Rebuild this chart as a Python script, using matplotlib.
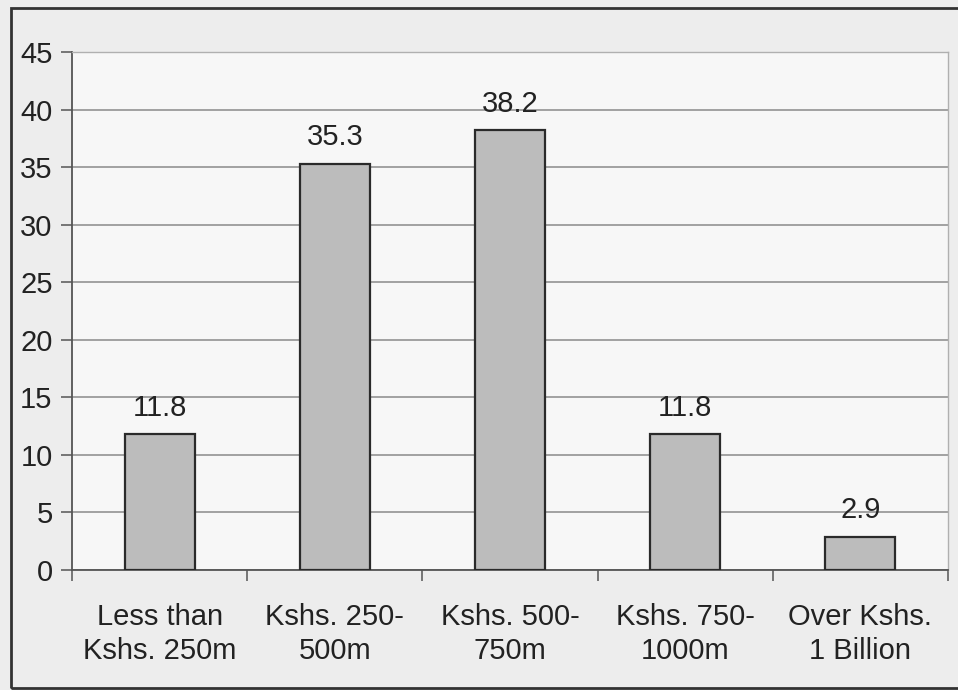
"""Bar chart: distribution of firms by annual turnover band (percent)."""

import matplotlib

matplotlib.use('Agg')
import matplotlib.pyplot as plt
from matplotlib.patches import Rectangle
import numpy as np

# -----------------------------------------------------------------------
# Data
# -----------------------------------------------------------------------
categories = [
    'Less than\nKshs. 250m',
    'Kshs. 250-\n500m',
    'Kshs. 500-\n750m',
    'Kshs. 750-\n1000m',
    'Over Kshs.\n1 Billion',
]
values = [11.8, 35.3, 38.2, 11.8, 2.9]
y_ticks = [0, 5, 10, 15, 20, 25, 30, 35, 40, 45]

# -----------------------------------------------------------------------
# Figure
# -----------------------------------------------------------------------
plt.rcParams['font.family'] = ['Liberation Sans', 'DejaVu Sans']
FS = 21

fig = plt.figure(figsize=(9.58, 6.9), dpi=100, facecolor='#ededed')
ax = fig.add_axes([0.0752, 0.1739, 0.9144, 0.7507])
ax.set_facecolor('#f7f7f7')

x = np.arange(len(categories))
bars = ax.bar(x, values, width=0.4, color='#bcbcbc',
              edgecolor='#2a2a2a', linewidth=1.6, zorder=3)

for rect, v in zip(bars, values):
    ax.annotate(f'{v:.1f}', (rect.get_x() + rect.get_width() / 2, v),
                xytext=(0, 9), textcoords='offset points',
                ha='center', va='bottom', fontsize=FS, color='#222222')

ax.set_xlim(-0.5, len(categories) - 0.5)
ax.set_ylim(0, 45)
ax.set_yticks(y_ticks)
ax.yaxis.grid(True, color='#8a8a8a', linewidth=1.1, zorder=0)

# category labels centred under bars, tick marks between categories
ax.set_xticks(x)
ax.set_xticklabels(categories, fontsize=FS, color='#222222', linespacing=1.25)
ax.tick_params(axis='x', which='major', length=0, pad=24)
ax.set_xticks(np.arange(-0.5, len(categories)), minor=True)
ax.tick_params(axis='x', which='minor', length=8, width=1.1, color='#555555')

ax.tick_params(axis='y', length=8, width=1.1, color='#555555',
               labelsize=FS, labelcolor='#222222', pad=6)

for side in ('top', 'right'):
    ax.spines[side].set_color('#b0b0b0')
    ax.spines[side].set_linewidth(1.0)
for side in ('left', 'bottom'):
    ax.spines[side].set_color('#555555')
    ax.spines[side].set_linewidth(1.3)

# outer chart border
fig.patches.append(Rectangle((0.011, 0.003), 0.995, 0.986,
                             transform=fig.transFigure, fill=False,
                             edgecolor='#333333', linewidth=2.0))

fig.savefig('out.png', dpi=100, facecolor=fig.get_facecolor())
